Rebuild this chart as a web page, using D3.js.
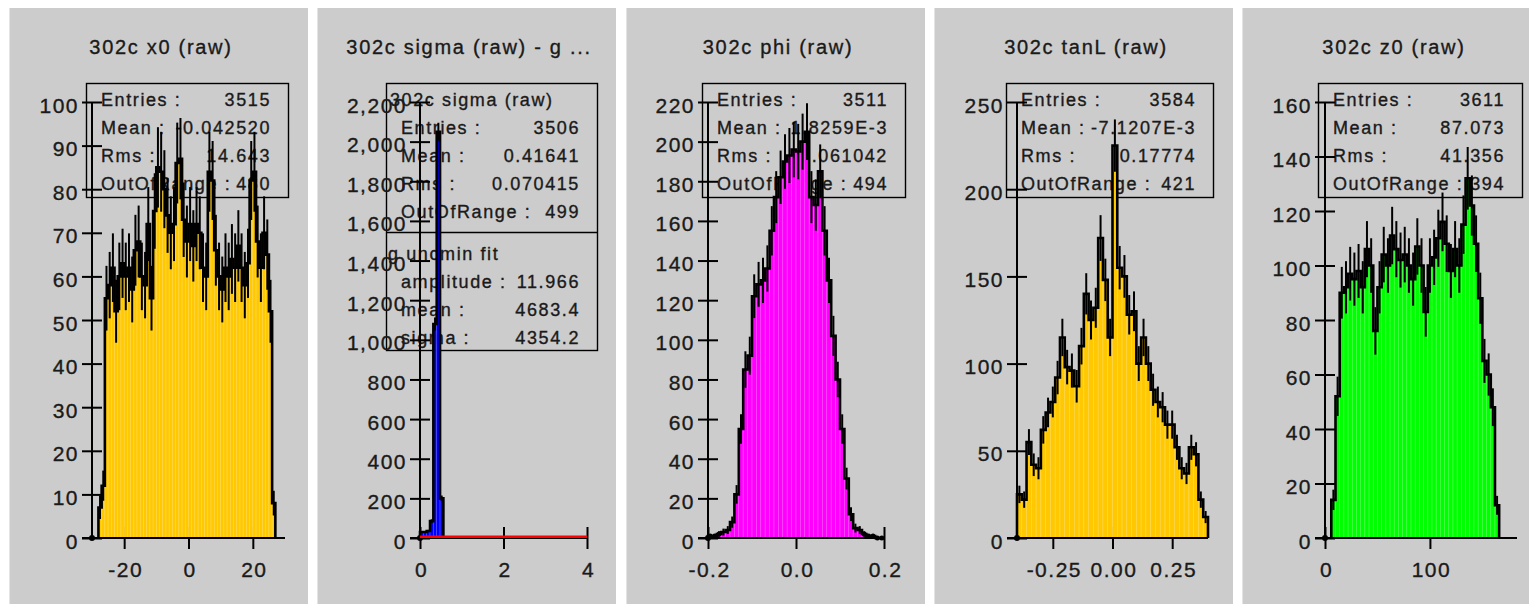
<!DOCTYPE html>
<html>
<head>
<meta charset="utf-8">
<script src="https://cdn.jsdelivr.net/npm/d3@7"></script>
<style>
  body { margin: 0; background: #ffffff; }
  svg { display: block; }
  text { font-family: "Liberation Sans", Arial, sans-serif; fill: #1a1a1a; stroke: #1a1a1a; stroke-width: 0.35px; }
</style>
</head>
<body>
<svg id="chart"></svg>
<script>
// ---- data ----
const titles = ["302c x0 (raw)", "302c sigma (raw) - g ...", "302c phi (raw)", "302c tanL (raw)", "302c z0 (raw)"];

// bin counts, with the [low, high] edge of the filled bins
const x0Counts = [7, 12, 55, 58, 62, 52, 60, 63, 60, 62, 57, 66, 68, 60, 58, 72, 55, 75, 85, 84,
  80, 74, 70, 72, 86, 87, 73, 68, 72, 67, 72, 70, 62, 60, 84, 82, 66, 60, 57, 62,
  60, 64, 62, 67, 62, 58, 63, 82, 84, 68, 62, 70, 65, 52, 8];
const x0Range = [-28, 27];

const sigmaCounts = [30, 30, 35, 85, 1080, 2050, 200];
const sigmaRange = [0, 0.56];

const phiCounts = [1, 1, 2, 3, 4, 8, 22, 55, 85, 92, 122, 128, 130, 136, 155, 172, 182, 190, 193, 196,
  195, 200, 205, 172, 168, 185, 155, 130, 102, 80, 55, 30, 12, 5, 4, 2, 1, 1, 0, 0];
const phiRange = [-0.2, 0.2];

const tanLCounts = [25, 22, 55, 42, 40, 62, 72, 78, 92, 115, 98, 96, 87, 110, 140, 125, 132, 172, 148, 115,
  225, 155, 150, 128, 130, 100, 115, 100, 85, 78, 75, 65, 65, 52, 40, 37, 52, 48, 22, 12];
const tanLRange = [-0.4, 0.4];

const z0Counts = [14, 52, 90, 92, 97, 95, 98, 92, 106, 100, 76, 92, 104, 100, 111, 106, 102, 104, 100, 95,
  107, 100, 83, 100, 103, 110, 116, 108, 98, 106, 100, 115, 132, 122, 108, 88, 65, 60, 48, 12];
const z0Range = [6, 166];

// axis extents and ticks
const xDomains = [[-30, 30], [0, 4], [-0.2, 0.2], [-0.4, 0.4], [0, 183]];
const xTickLabels = [["-20", "0", "20"], ["0", "2", "4"], ["-0.2", "0.0", "0.2"], ["-0.25", "0.00", "0.25"], ["0", "100"]];
const yTickLabels = [
  ["0", "10", "20", "30", "40", "50", "60", "70", "80", "90", "100"],
  ["0", "200", "400", "600", "800", "1,000", "1,200", "1,400", "1,600", "1,800", "2,000", "2,200"],
  ["0", "20", "40", "60", "80", "100", "120", "140", "160", "180", "200", "220"],
  ["0", "50", "100", "150", "200", "250"],
  ["0", "20", "40", "60", "80", "100", "120", "140", "160"]
];

// statistics boxes
const statLabels = ["Entries :", "Mean :", "Rms :", "OutOfRange :"];
const statValues = [
  ["3515", "-0.042520", "14.643", "480"],
  ["3506", "0.41641", "0.070415", "499"],
  ["3511", "1.8259E-3", "0.061042", "494"],
  ["3584", "-7.1207E-3", "0.17774", "421"],
  ["3611", "87.073", "41.356", "394"]
];
const fitName = "g uncmin fit";
const fitLabels = ["amplitude :", "mean :", "sigma :"];
const fitValues = ["11.966", "4683.4", "4354.2"];
const fitCurveX = [0, 4];
const fitCurveY = [6.7, 6.7];

const fillColors = ["#FFC800", "#0000FF", "#FF00FF", "#FFC800", "#00FF00"];

// ---- layout ----
const W = 1529, H = 604;
const panelLefts = [9, 317, 626, 934, 1242];
const panelWidth = 299;
const panelTop = 8;
const plotLefts = [92, 420, 708, 1017, 1325];
const plotRights = [285, 587, 884, 1208, 1517];
const plotTop = 102, plotBottom = 538;
const boxLefts = [86, 386, 702, 1006, 1318];
const boxRights = [288, 597, 905, 1213, 1522];

const countsList = [x0Counts, sigmaCounts, phiCounts, tanLCounts, z0Counts];
const rangeList = [x0Range, sigmaRange, phiRange, tanLRange, z0Range];

const svg = d3.select("#chart").attr("width", W).attr("height", H);
svg.append("rect").attr("width", W).attr("height", H).attr("fill", "#ffffff");

titles.forEach((t, i) => drawPanel(i));

function drawPanel(i) {
    const g = svg.append("g");
    const pl = panelLefts[i];

    g.append("rect")
        .attr("x", pl).attr("y", panelTop)
        .attr("width", panelWidth).attr("height", H - panelTop)
        .attr("fill", "#cccccc");
    g.append("line")
        .attr("x1", pl + 0.5).attr("x2", pl + 0.5)
        .attr("y1", panelTop).attr("y2", H)
        .attr("stroke", "#e4e4e4").attr("stroke-width", 1);

    g.append("text")
        .attr("x", pl + panelWidth / 2 + 2.5)
        .attr("y", 54)
        .attr("text-anchor", "middle")
        .attr("font-size", "20px")
        .attr("letter-spacing", "1.7px")
        .text(titles[i]);

    const x = d3.scaleLinear().domain(xDomains[i]).range([plotLefts[i], plotRights[i]]);
    const yVals = yTickLabels[i].map(s => +s.replace(/,/g, ""));
    const y = d3.scaleLinear().domain([0, d3.max(yVals)]).range([plotBottom, plotTop]);

    // statistics box (drawn first, plot sits over it)
    drawStatsBox(g, i);

    // axes: ticks and labels
    const xAxis = d3.axisBottom(x)
        .tickValues(xTickLabels[i].map(Number))
        .tickFormat((d, k) => xTickLabels[i][k])
        .tickSizeInner(11).tickSizeOuter(0);
    const yAxis = d3.axisLeft(y)
        .tickValues(yVals)
        .tickFormat((d, k) => yTickLabels[i][k])
        .tickSizeInner(10).tickSizeOuter(0);

    const xAxisG = g.append("g").attr("transform", `translate(0,${plotBottom})`).call(xAxis);
    const yAxisG = g.append("g").attr("transform", `translate(${plotLefts[i]},0)`).call(yAxis);
    [xAxisG, yAxisG].forEach(a => {
        a.attr("font-family", null).attr("font-size", null);
        a.select(".domain").remove();
        a.selectAll(".tick line").attr("stroke", "#000").attr("stroke-width", 2);
        a.selectAll(".tick text")
            .attr("fill", "#1a1a1a")
            .attr("font-size", "21px")
            .attr("letter-spacing", "1.5px");
    });
    xAxisG.selectAll(".tick line").attr("y1", -11);
    xAxisG.selectAll(".tick text").attr("y", 39).attr("dy", null).attr("dx", 1);
    yAxisG.selectAll(".tick line").attr("x1", 10);
    yAxisG.selectAll(".tick text").attr("x", -13).attr("dy", 10);

    // histogram
    const counts = countsList[i];
    const range = rangeList[i];
    const bw = (range[1] - range[0]) / counts.length;
    const bins = counts.map((c, k) => ({ x0: range[0] + k * bw, x1: range[0] + (k + 1) * bw, c: c }));
    const stripe = d3.interpolateRgb(fillColors[i], "#ffffff")(0.3);

    g.append("g").selectAll("rect")
        .data(bins.filter(b => b.c > 0))
        .join("rect")
        .attr("x", d => x(d.x0))
        .attr("width", d => x(d.x1) - x(d.x0))
        .attr("y", d => y(d.c))
        .attr("height", d => y(0) - y(d.c))
        .attr("fill", fillColors[i])
        .attr("stroke", stripe)
        .attr("stroke-width", 0.6);

    const outlinePts = [[bins[0].x0, 0]]
        .concat(bins.flatMap(b => [[b.x0, b.c], [b.x1, b.c]]))
        .concat([[bins[bins.length - 1].x1, 0]]);
    g.append("path")
        .attr("d", d3.line().x(d => x(d[0])).y(d => y(d[1]))(outlinePts))
        .attr("fill", "none")
        .attr("stroke", "#000")
        .attr("stroke-width", 2.6);

    g.append("g").selectAll("line")
        .data(bins.filter(b => b.c > 0))
        .join("line")
        .attr("x1", d => x((d.x0 + d.x1) / 2))
        .attr("x2", d => x((d.x0 + d.x1) / 2))
        .attr("y1", d => y(d.c - Math.sqrt(d.c)))
        .attr("y2", d => y(d.c + Math.sqrt(d.c)))
        .attr("stroke", "#000")
        .attr("stroke-width", 2);

    // axis lines on top of the fill
    g.append("line")
        .attr("x1", plotLefts[i] - 10).attr("x2", plotRights[i])
        .attr("y1", plotBottom).attr("y2", plotBottom)
        .attr("stroke", "#000").attr("stroke-width", 2);
    g.append("line")
        .attr("x1", plotLefts[i]).attr("x2", plotLefts[i])
        .attr("y1", plotBottom).attr("y2", plotTop)
        .attr("stroke", "#000").attr("stroke-width", 2);

    // near-empty bins are drawn as points
    g.append("g").selectAll("circle")
        .data(bins.filter(b => b.c < 3))
        .join("circle")
        .attr("cx", d => x((d.x0 + d.x1) / 2))
        .attr("cy", d => y(d.c))
        .attr("r", 2.5)
        .attr("fill", "#000");
    g.append("circle")
        .attr("cx", x(xDomains[i][0])).attr("cy", y(0))
        .attr("r", 3).attr("fill", "#000");

    // fitted function on the sigma panel
    if (i === 1) {
        const fitPts = fitCurveX.map((v, k) => [v, fitCurveY[k]]);
        g.append("path")
            .attr("d", d3.line().x(d => x(d[0])).y(d => y(d[1]))(fitPts))
            .attr("fill", "none")
            .attr("stroke", "#FF0000")
            .attr("stroke-width", 2.5);
    }
}

function drawStatsBox(g, i) {
    const bl = boxLefts[i], br = boxRights[i];
    const top = 83;
    const hasFit = i === 1;
    const bottom = hasFit ? 350 : 197;

    const box = g.append("g");
    box.append("rect")
        .attr("x", bl + 0.5).attr("y", top + 0.5)
        .attr("width", br - bl).attr("height", bottom - top)
        .attr("fill", "none")
        .attr("stroke", "#000").attr("stroke-width", 1.4);

    const rowText = (str, xPos, yPos, anchor) => box.append("text")
        .attr("x", xPos).attr("y", yPos)
        .attr("text-anchor", anchor)
        .attr("font-size", "18px")
        .attr("letter-spacing", "1.6px")
        .text(str);

    let baseline = 106;
    if (hasFit) {
        rowText("302c sigma (raw)", bl + 4, baseline, "start");
        baseline += 28;
    }
    statLabels.forEach((lab, k) => {
        rowText(lab, bl + 15, baseline + k * 28, "start");
        rowText(statValues[i][k], br - 17, baseline + k * 28, "end");
    });

    if (hasFit) {
        box.append("line")
            .attr("x1", bl).attr("x2", br)
            .attr("y1", 232.5).attr("y2", 232.5)
            .attr("stroke", "#000").attr("stroke-width", 1.4);
        rowText(fitName, bl + 2, 260, "start");
        fitLabels.forEach((lab, k) => {
            rowText(lab, bl + 15, 288 + k * 28, "start");
            rowText(fitValues[k], br - 17, 288 + k * 28, "end");
        });
    }
}
</script>
</body>
</html>
